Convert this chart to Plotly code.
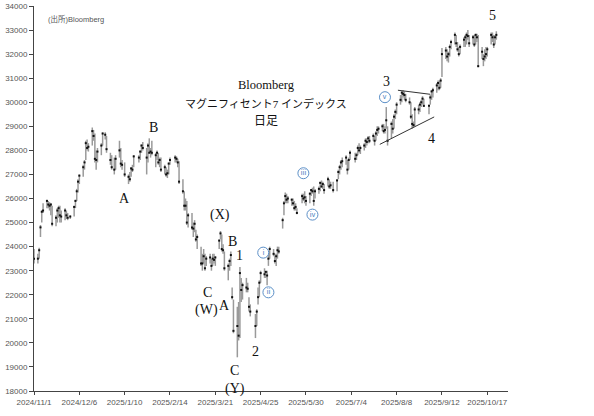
import pandas as pd
import plotly.graph_objects as go

# ---------------- data ----------------
HOLIDAYS = ["2024-11-28", "2024-12-25", "2025-01-01", "2025-01-09", "2025-01-20",
            "2025-02-17", "2025-04-18", "2025-05-26", "2025-06-19", "2025-07-04",
            "2025-09-01"]
dates = pd.bdate_range("2024-11-01", "2025-10-24", freq="C", holidays=HOLIDAYS)

high = [
    23900,
    23700, 23950, 24900, 25500, 25800,
    25950, 25900, 25850, 25800, 25700,
    25300, 25600, 25700, 25700, 25500,
    25600, 25500, 25400, 25300,
    25700, 25950, 26400, 26800, 27000,
    27400, 27600, 28400, 28450, 28300,
    28950, 28850, 28700, 28000, 28100,
    28300, 28750, 28750, 28600,
    27900, 27800, 27700, 27800,
    28400, 28100, 27600, 27500,
    27000, 27100, 27300, 27400, 27800,
    27800, 28000, 28250, 28350,
    28100, 28300, 28500, 28100, 28400,
    27900, 28000, 27900, 27700, 27700,
    27400, 27300, 27200, 27500, 27700,
    27800, 27750, 27650, 27550,
    26800, 26300, 26000, 25900, 25400,
    25400, 25000, 25100, 24700, 24500,
    24000, 23700, 23900, 23700, 23600,
    23700, 23500, 23700, 23700, 23600,
    24300, 24650, 24500, 24100, 23800,
    23300, 23500, 23800, 22300, 21800,
    21500, 21700, 23150, 22700, 22500,
    22700, 22500, 21900, 21600,
    21200, 21400, 22300, 22600, 23000,
    23100, 23000, 23000, 23700, 24000,
    23900, 23700, 23700, 24000, 24000,
    25200, 25900, 26250, 26200, 26100,
    26000, 26000, 25900, 25800, 25600,
    26200, 26200, 26300, 26100,
    26250, 26400, 26450, 26500, 26400,
    26500, 26700, 26750, 26700, 26600,
    26900, 26800, 26700, 26700,
    26800, 27200, 27400, 27600, 27700,
    27800, 27600, 27700, 28000,
    27900, 27900, 28200, 28300, 28200,
    28300, 28500, 28500, 28600, 28600,
    28700, 28600, 28800, 29000, 29000,
    29100, 29100, 29000, 29800, 29000,
    29200, 29300, 29500, 29700, 30000,
    30300, 30450, 30500, 30450, 30350,
    30200, 30000, 29500, 29200, 29800,
    29900, 30000, 30100, 30250, 30150,
    29900, 30300, 30500, 30600,
    30800, 30900, 30900, 31000, 32250,
    32300, 32200, 32100, 32400, 32600,
    32900, 32800, 32500, 32300, 32400,
    32700, 32800, 32900, 33000, 32800,
    32800, 32800, 32850, 32850, 32800,
    32300, 32000, 32200, 32300, 32300,
    32900, 32900, 32800, 32800, 32950,
]
low = [
    23300,
    23300, 23500, 24400, 25000, 25400,
    25600, 25600, 25500, 25300, 24850,
    24850, 25000, 25200, 25000, 25000,
    25100, 25150, 25100, 25150,
    25250, 25600, 25900, 26250, 26600,
    26900, 27200, 27600, 28000, 27950,
    28200, 28400, 27500, 27200, 27500,
    27800, 28200, 28450, 27900,
    27400, 27200, 27000, 27200,
    27700, 27300, 27200, 26900,
    26600, 26700, 26900, 27100, 27300,
    27500, 27600, 27900, 28000,
    27000, 27500, 27900, 27700, 27800,
    27300, 27600, 27400, 27300, 27100,
    27000, 26900, 26850, 27000, 27400,
    27500, 27500, 27300, 26600,
    26200, 25500, 25500, 24900, 24800,
    24700, 24400, 24600, 24200, 23900,
    23200, 23000, 23300, 23000, 23200,
    23300, 23000, 23200, 23300, 23200,
    23900, 24300, 23800, 23700, 23000,
    22600, 23000, 23200, 21800, 20400,
    19400, 20100, 20200, 21700, 21800,
    22100, 22100, 21300, 21100,
    20200, 20700, 21600, 21900, 22500,
    22700, 22700, 22400, 23200, 23500,
    23600, 23300, 23200, 23500, 23700,
    24750, 25300, 25800, 25800, 25800,
    25700, 25700, 25500, 25500, 25350,
    25800, 25900, 25800, 25700,
    25800, 26100, 26200, 25700, 26000,
    26200, 26300, 26450, 26400, 26200,
    26500, 26400, 26400, 26250,
    26300, 26800, 27000, 27200, 27300,
    27400, 27000, 27200, 27600,
    27500, 27600, 27800, 27900, 27850,
    28000, 28100, 28200, 28300, 28300,
    28400, 28200, 28400, 28600, 28700,
    28800, 28700, 28700, 28900, 28200,
    28500, 28700, 28900, 29300, 29500,
    29900, 30000, 30200, 30100, 30000,
    29900, 29300, 28900, 28950, 29000,
    29500, 29600, 29800, 29900, 29800,
    29500, 29900, 30100, 30200,
    30400, 30500, 30500, 30600, 31050,
    31800, 31700, 31650, 31900, 32200,
    32400, 32300, 32100, 31900, 32000,
    32300, 32300, 32400, 32600, 32300,
    32400, 32300, 32400, 32500, 31450,
    31800, 31500, 31700, 31800, 31900,
    32400, 32500, 32250, 32400, 32600,
]
close = [
    23500,
    23500, 23850, 24800, 25450, 25500,
    25900, 25750, 25700, 25750, 24950,
    25200, 25500, 25600, 25300, 25250,
    25500, 25300, 25200, 25250,
    25650, 25900, 26300, 26700, 26950,
    27300, 27500, 28300, 28100, 28150,
    28800, 28600, 27650, 27600, 27950,
    28200, 28700, 28650, 28050,
    27600, 27300, 27200, 27650,
    28000, 27450, 27400, 27000,
    26900, 26800, 27250, 27200, 27750,
    27700, 27950, 28200, 28100,
    27700, 28200, 27900, 27950, 27900,
    27800, 27900, 27500, 27600, 27200,
    27300, 27000, 27050, 27450, 27600,
    27700, 27650, 27500, 26700,
    26300, 25700, 25700, 25000, 25300,
    24800, 24750, 24950, 24300, 24400,
    23300, 23300, 23600, 23100, 23500,
    23550, 23200, 23500, 23450, 23550,
    24250, 24550, 23900, 23850, 23100,
    23200, 23400, 23650, 21900, 20500,
    20700, 20300, 22900, 22200, 22400,
    22300, 22250, 21500, 21300,
    20700, 21300, 21900, 22500, 22900,
    22850, 22950, 22800, 23500, 23900,
    23700, 23400, 23600, 23850, 23800,
    25100, 25800, 26100, 25950, 26000,
    25950, 25800, 25600, 25650, 25400,
    26100, 26000, 26050, 25900,
    26200, 26350, 26300, 25900, 26300,
    26400, 26650, 26500, 26600, 26350,
    26800, 26500, 26550, 26350,
    26750, 27100, 27300, 27500, 27550,
    27700, 27200, 27600, 27900,
    27650, 27800, 28100, 28000, 28100,
    28200, 28400, 28350, 28500, 28400,
    28600, 28400, 28700, 28850, 28900,
    29000, 28800, 28850, 29250, 28400,
    29100, 28900, 29400, 29600, 29900,
    30100, 30400, 30350, 30300, 30100,
    30000, 29400, 29100, 29050, 29700,
    29700, 29900, 30000, 30150, 29850,
    29850, 30200, 30450, 30500,
    30700, 30800, 30600, 30900, 32000,
    32150, 31900, 32000, 32300, 32500,
    32800, 32450, 32200, 32000, 32300,
    32600, 32700, 32800, 32750, 32450,
    32700, 32400, 32800, 32700, 31500,
    32100, 31800, 31900, 32000, 32200,
    32800, 32700, 32400, 32700, 32800,
]
tick_dates = ["2024-11-01", "2024-12-06", "2025-01-10", "2025-02-14", "2025-03-21",
              "2025-04-25", "2025-05-30", "2025-07-04", "2025-08-08", "2025-09-12",
              "2025-10-17"]
tick_labels = ["2024/11/1", "2024/12/6", "2025/1/10", "2025/2/14", "2025/3/21",
               "2025/4/25", "2025/5/30", "2025/7/4", "2025/8/8", "2025/9/12",
               "2025/10/17"]

# wave labels: (text, date, value)
wave_labels = [
    ("B", "2025-02-01", 28960), ("A", "2025-01-10", 26000),
    ("(X)", "2025-03-25", 25330), ("B", "2025-04-03", 24200),
    ("1", "2025-04-09", 23650), ("C", "2025-03-15", 22100),
    ("(W)", "2025-03-14", 21350), ("A", "2025-03-28", 21550),
    ("2", "2025-04-21", 19650), ("C", "2025-04-05", 18850),
    ("(Y)", "2025-04-05", 18080), ("3", "2025-07-31", 30850),
    ("4", "2025-09-04", 28500), ("5", "2025-10-21", 33600),
]
# circled sub-wave labels: (text, date, value)
sub_labels = [
    ("ⅰ", "2025-04-27", 23750), ("ⅱ", "2025-05-01", 22100),
    ("ⅲ", "2025-05-28", 27050), ("ⅳ", "2025-06-04", 25330),
    ("ⅴ", "2025-07-30", 30210),
]
# triangle trend lines: (date0, value0, date1, value1)
trend_lines = [
    ("2025-08-09", 30500, "2025-09-03", 30330),
    ("2025-07-26", 28250, "2025-09-06", 29390),
]

assert len(dates) == len(high) == len(low) == len(close), (len(dates), len(high), len(low), len(close))

# ---------------- figure ----------------
seg_x, seg_y = [], []
for d, h, l in zip(dates, high, low):
    seg_x += [d, d, None]
    seg_y += [l, h, None]

fig = go.Figure()
fig.add_trace(go.Scatter(x=seg_x, y=seg_y, mode="lines",
                         line=dict(color="#9a9a9a", width=1.5),
                         hoverinfo="skip", showlegend=False))
fig.add_trace(go.Scatter(x=dates, y=close, mode="markers",
                         marker=dict(symbol="square", size=2, color="#111111",
                                     line=dict(width=0)),
                         showlegend=False))

serif = "Liberation Serif, Noto Sans CJK JP, serif"
for t, d, v in wave_labels:
    fig.add_annotation(x=d, y=v, text=t, showarrow=False,
                       xanchor="center", yanchor="middle",
                       font=dict(family=serif, size=14, color="#111111"))

for t, d, v in sub_labels:
    fig.add_shape(type="circle", xref="x", yref="y", xsizemode="pixel", ysizemode="pixel",
                  xanchor=d, yanchor=v, x0=-5.5, x1=5.5, y0=-5.5, y1=5.5,
                  line=dict(color="#5b8fc7", width=1), fillcolor="white")
    fig.add_annotation(x=d, y=v, text=t, showarrow=False,
                       xanchor="center", yanchor="middle",
                       font=dict(family=serif, size=7, color="#4a7fbf"))

for d0, v0, d1, v1 in trend_lines:
    fig.add_shape(type="line", xref="x", yref="y", x0=d0, y0=v0, x1=d1, y1=v1,
                  line=dict(color="#333333", width=1))

title_lines = [("Bloomberg", 0.795, 12.5),
               ("マグニフィセント7 インデックス", 0.748, 11),
               ("日足", 0.702, 12)]
for t, yy, fs in title_lines:
    fig.add_annotation(x=0.49, y=yy, xref="paper", yref="paper", text=t,
                       showarrow=False, xanchor="center", yanchor="middle",
                       font=dict(family=serif, size=fs, color="#111111"))
fig.add_annotation(x=0.025, y=0.965, xref="paper", yref="paper",
                   xanchor="left", yanchor="middle",
                   text="(出所)Bloomberg", showarrow=False,
                   font=dict(family="Liberation Sans, Noto Sans CJK JP, sans-serif",
                             size=7.5, color="#555555"))

axis_font = dict(family="Liberation Sans, Arial, sans-serif", size=8, color="#555555")
fig.update_xaxes(type="date", range=["2024-11-01", "2025-11-02"],
                 tickvals=tick_dates, ticktext=tick_labels, automargin=False,
                 showgrid=False, zeroline=False, showline=True,
                 linecolor="#444444", linewidth=1, ticks="outside", ticklen=3,
                 tickcolor="#444444", tickfont=axis_font)
fig.update_yaxes(range=[18000, 34000], dtick=1000, tickformat="d", automargin=False,
                 showgrid=False, zeroline=False, showline=True,
                 linecolor="#444444", linewidth=1, ticks="outside", ticklen=4,
                 tickcolor="#444444", tickfont=axis_font)
fig.update_layout(width=594, height=416,
                  margin=dict(l=34, r=86, t=6, b=25),
                  plot_bgcolor="white", paper_bgcolor="white",
                  showlegend=False)

fig.write_html("out.html", config={"displayModeBar": False},
               post_script="document.body.style.margin='0';document.body.style.overflow='hidden';")
